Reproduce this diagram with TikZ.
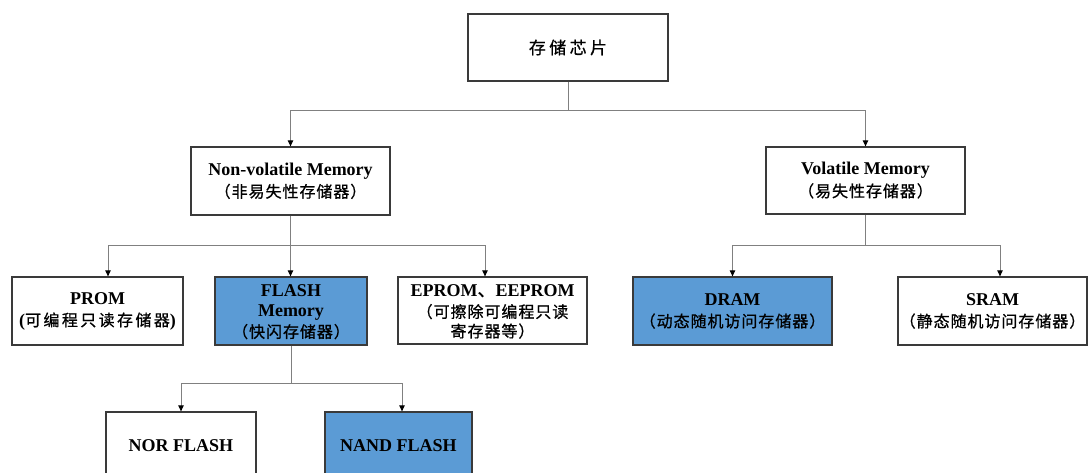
\documentclass[tikz,border=0pt]{standalone}
\usepackage{fontspec}
\setmainfont{Liberation Serif}
\newfontfamily\cjk[LetterSpace=6,FakeBold=0.8]{Noto Sans CJK SC}
\newfontfamily\cjkwide[LetterSpace=15,FakeBold=0.8]{Noto Sans CJK SC}
\newfontfamily\cjktop[LetterSpace=20,FakeBold=0.8]{Noto Sans CJK SC}
\usetikzlibrary{arrows.meta}
\definecolor{boxblue}{HTML}{5B9BD5}
\definecolor{linegray}{HTML}{808080}
\definecolor{bordergray}{HTML}{3A3A3A}
\tikzset{
  box/.style={draw=bordergray, line width=1.3pt, fill=white, align=center, inner sep=0pt,
    font=\fontsize{18}{22}\selectfont\bfseries},
  bluebox/.style={box, fill=boxblue},
  txt/.style={align=center, inner sep=0pt, font=\fontsize{18}{19.5}\selectfont\bfseries},
  conn/.style={draw=linegray, line width=0.9pt},
  arr/.style={conn, -{Triangle[length=6pt,width=5.5pt,fill=black,color=black]}}
}
\newcommand{\zh}[1]{{\mdseries\cjk\fontsize{16}{22}\selectfont #1}}
\newcommand{\zhw}[1]{{\mdseries\cjkwide\fontsize{16}{22}\selectfont #1}}
\newcommand{\zht}[1]{{\mdseries\cjktop\fontsize{17}{22}\selectfont #1}}
\begin{document}
\begin{tikzpicture}[x=1pt, y=-1pt]
\useasboundingbox (0,0) rectangle (1088,473);
% nodes
\node[box, minimum width=200pt, minimum height=67pt] (top) at (568,47.5) {\zht{存储芯片}};
\node[box, minimum width=199pt, minimum height=68pt] (nv) at (290.5,181) {Non-volatile Memory\\\zh{（非易失性存储器）}};
\node[box, minimum width=199pt, minimum height=67pt] (vol) at (865.5,180.5) {Volatile Memory\\\zh{（易失性存储器）}};
\node[box, minimum width=171pt, minimum height=68pt] (prom) at (97.5,311) {PROM\\{\bfseries(}\zhw{可编程只读存储器}{\bfseries)}};
\node[bluebox, minimum width=152pt, minimum height=68pt] (flash) at (291,311) {};
\node[txt] (flashtxt) at (291,312) {FLASH\\Memory\\[2pt]\zh{（快闪存储器）}};
\node[box, minimum width=189pt, minimum height=67pt] (eprom) at (492.5,310.5) {};
\node[txt] (epromtxt) at (492.5,311.5) {EPROM{\mdseries\cjk 、}EEPROM\\[2pt]\zh{（可擦除可编程只读}\\\zh{寄存器等）}};
\node[bluebox, minimum width=199pt, minimum height=68pt] (dram) at (732.5,311) {DRAM\\\zh{（动态随机访问存储器）}};
\node[box, minimum width=189pt, minimum height=68pt] (sram) at (992.5,311) {SRAM\\\zh{（静态随机访问存储器）}};
\node[box, minimum width=150pt, minimum height=68pt] (nor) at (181,446) {NOR FLASH};
\node[bluebox, minimum width=147pt, minimum height=68pt] (nand) at (398.5,446) {NAND FLASH};
% bus levels and arrow positions
\coordinate (b1) at (0,110);
\coordinate (b2) at (0,245);
\coordinate (b3) at (0,383);
\coordinate (pa) at (108,0);
\coordinate (ea) at (485,0);
\coordinate (sa) at (1000,0);
\coordinate (na) at (402,0);
% connectors
\draw[conn] (top.south) -- (top.south |- b1);
\draw[arr] (top.south |- b1) -| (nv.north);
\draw[arr] (top.south |- b1) -| (vol.north);
\draw[arr] (nv.south) -- (nv.south |- flash.north);
\draw[arr] (nv.south |- b2) -| (pa |- prom.north);
\draw[arr] (nv.south |- b2) -| (ea |- eprom.north);
\draw[conn] (vol.south) -- (vol.south |- b2);
\draw[arr] (vol.south |- b2) -| (dram.north);
\draw[arr] (vol.south |- b2) -| (sa |- sram.north);
\draw[conn] (flash.south) -- (flash.south |- b3);
\draw[arr] (flash.south |- b3) -| (nor.north);
\draw[arr] (flash.south |- b3) -| (na |- nand.north);
\end{tikzpicture}
\end{document}
